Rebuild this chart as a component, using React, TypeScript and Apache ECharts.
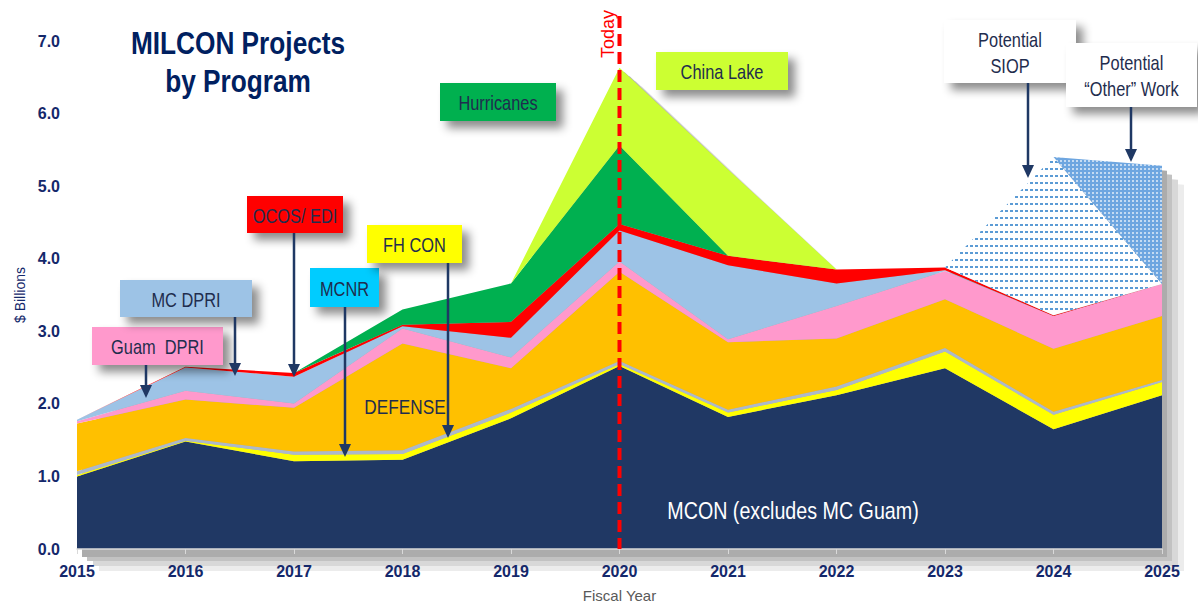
import React, { useEffect, useRef } from 'react';
import * as echarts from 'echarts';

// ---------- data ($ billions, by fiscal year) ----------
const years = ['2015', '2016', '2017', '2018', '2019', '2020', '2021', '2022', '2023', '2024', '2025'];
const yTicks = [0, 1, 2, 3, 4, 5, 6, 7];
const todayYear = '2020';

const mcon = [1.0, 1.48, 1.21, 1.23, 1.8, 2.52, 1.82, 2.12, 2.49, 1.65, 2.12];
const fhCon = [0.02, 0.01, 0.09, 0.08, 0.08, 0.03, 0.06, 0.07, 0.23, 0.2, 0.18];
const mcnr = [0.05, 0.04, 0.045, 0.05, 0.05, 0.04, 0.04, 0.05, 0.05, 0.04, 0.03];
const defense = [0.66, 0.53, 0.6, 1.47, 0.56, 1.23, 0.93, 0.66, 0.67, 0.87, 0.88];
const guamDpri = [0.03, 0.12, 0.06, 0.21, 0.15, 0.14, 0.04, 0.45, 0.39, 0.45, 0.44];
const mcDpri = [0.02, 0.32, 0.37, 0.03, 0.27, 0.43, 1.02, 0.31, 0.01, 0, 0];
const ocosEdi = [0, 0.01, 0.05, 0.02, 0.22, 0.09, 0.13, 0.19, 0.04, 0.01, 0];
const hurricanes = [0, 0, 0, 0.21, 0.53, 1.08, 0, 0, 0, 0, 0];
const chinaLake = [0, 0, 0, 0, 0, 1.07, 1.19, 0, 0, 0, 0];
const potentialSiop = [0, 0, 0, 0, 0, 0, 0, 0, 0, 2.18, 0];
const potentialOther = [0, 0, 0, 0, 0, 0, 0, 0, 0, 0, 1.63];

const NAVY = '#1f3864';
const LABEL_NAVY = '#14286b';
const BOX_TEXT = '#1f2d4e';
const SANS = '"Liberation Sans", Arial, sans-serif';
const NARROW_SCALE = 0.82;

const GRID = { left: 77, right: 36, top: 41, bottom: 55 };
// drop-shadow copies of the stack: [dx, dy, colour]
const SHADOW_STEPS: [number, number, string][] = [
  [22, 18, '#ececec'],
  [16, 13, '#d8d8d8'],
  [10, 8, '#c2c2c2'],
  [5, 4, '#acacac'],
];

export default function App() {
  const ref = useRef<HTMLDivElement>(null);

  useEffect(() => {
    document.body.style.margin = '0';
    const chart = echarts.init(ref.current!, null, { renderer: 'svg' });

    const layers: [string, number[], string, any?][] = [
      ['MCON', mcon, '#203864'],
      ['FH CON', fhCon, '#ffff00'],
      ['MCNR', mcnr, '#adb9ca'],
      ['DEFENSE', defense, '#ffc000'],
      ['Guam DPRI', guamDpri, '#ff99cc'],
      ['MC DPRI', mcDpri, '#9dc3e6'],
      ['OCOS/ EDI', ocosEdi, '#ff0000'],
      ['Hurricanes', hurricanes, '#00b050'],
      ['China Lake', chinaLake, '#ccff33'],
      [
        'Potential SIOP',
        potentialSiop,
        '#ffffff',
        {
          symbol: 'rect',
          symbolSize: 1,
          color: '#5b9bd5',
          backgroundColor: '#ffffff',
          dashArrayX: [3, 2],
          dashArrayY: [1.5, 4.5],
          rotation: 0,
        },
      ],
      [
        'Potential Other Work',
        potentialOther,
        '#6ea6e0',
        {
          symbol: 'rect',
          symbolSize: 0.8,
          color: '#ffffff',
          backgroundColor: '#6ea6e0',
          dashArrayX: [2, 1.5],
          dashArrayY: [2, 1.5],
        },
      ],
    ];

    const totals = years.map((_, i) => layers.reduce((s, l) => s + l[1][i], 0));

    const grids: any[] = [{ ...GRID }];
    const xAxes: any[] = [];
    const yAxes: any[] = [];
    const series: any[] = [];

    SHADOW_STEPS.forEach(([dx, dy, col], k) => {
      const gi = k + 1;
      grids.push({ left: GRID.left + dx, right: GRID.right - dx, top: GRID.top + dy, bottom: GRID.bottom - dy });
      xAxes.push({ type: 'category', gridIndex: gi, data: years, boundaryGap: false, show: false });
      yAxes.push({ type: 'value', gridIndex: gi, min: yTicks[0], max: yTicks[yTicks.length - 1], show: false });
      series.push({
        name: 'shadow' + k,
        type: 'line',
        xAxisIndex: gi,
        yAxisIndex: gi,
        data: totals,
        symbol: 'none',
        silent: true,
        z: 1,
        lineStyle: { width: 0 },
        itemStyle: { color: col },
        areaStyle: { color: col, opacity: 1 },
        emphasis: { disabled: true },
      });
    });

    layers.forEach(([name, data, color, decal]) => {
      series.push({
        name,
        type: 'line',
        stack: 'total',
        xAxisIndex: 0,
        yAxisIndex: 0,
        data,
        symbol: 'none',
        silent: true,
        z: 2,
        lineStyle: { width: 0 },
        itemStyle: decal ? { color, decal } : { color },
        areaStyle: { color, opacity: 1 },
        emphasis: { disabled: true },
      });
    });

    chart.setOption({
      animation: false,
      grid: grids,
      xAxis: [
        {
          type: 'category',
          gridIndex: 0,
          data: years,
          boundaryGap: false,
          name: 'Fiscal Year',
          nameLocation: 'middle',
          nameGap: 39,
          nameTextStyle: { color: '#595959', fontSize: 15, fontFamily: SANS },
          axisLine: { show: true, lineStyle: { color: '#d9d9d9', width: 1.5 } },
          axisTick: { show: true, length: 5, lineStyle: { color: '#d9d9d9' } },
          axisLabel: {
            color: LABEL_NAVY,
            fontWeight: 'bold',
            fontSize: 16,
            fontFamily: SANS,
            margin: 14,
          },
          splitLine: { show: false },
          z: 5,
        },
        ...xAxes,
      ],
      yAxis: [
        {
          type: 'value',
          gridIndex: 0,
          min: yTicks[0],
          max: yTicks[yTicks.length - 1],
          interval: 1,
          name: '$ Billions',
          nameLocation: 'middle',
          nameGap: 45,
          nameRotate: 90,
          nameTextStyle: { color: LABEL_NAVY, fontSize: 14, fontFamily: SANS },
          axisLine: { show: false },
          axisTick: { show: false },
          splitLine: { show: false },
          axisLabel: {
            color: LABEL_NAVY,
            fontWeight: 'bold',
            fontSize: 16,
            fontFamily: SANS,
            margin: 17,
            formatter: (v: number) => v.toFixed(1),
          },
        },
        ...yAxes,
      ],
      series,
    });

    const todayX = chart.convertToPixel({ xAxisIndex: 0 }, todayYear) as number;
    const y0 = chart.convertToPixel({ yAxisIndex: 0 }, 0) as number;

    const boxShadow = {
      shadowBlur: 10,
      shadowColor: 'rgba(0,0,0,0.45)',
      shadowOffsetX: 7,
      shadowOffsetY: 7,
    };

    const narrowText = (text: string, x: number, y: number, size: number, fill: string, extra: any = {}) => ({
      type: 'text',
      z: 101,
      x,
      y,
      scaleX: NARROW_SCALE,
      style: {
        text,
        fill,
        fontSize: size,
        fontFamily: SANS,
        align: 'center',
        verticalAlign: 'middle',
        textAlign: 'center',
        textVerticalAlign: 'middle',
        ...extra,
      },
    });

    const box = (text: string, x: number, y: number, w: number, h: number, fill: string) => [
      { type: 'rect', z: 100, shape: { x, y, width: w, height: h }, style: { fill, ...boxShadow } },
      narrowText(text, x + w / 2, y + h / 2 + 1, 20, BOX_TEXT, { lineHeight: 26 }),
    ];

    const arrow = (x: number, yStart: number, yTip: number) => [
      { type: 'line', z: 102, shape: { x1: x, y1: yStart, x2: x, y2: yTip - 10 }, style: { stroke: NAVY, lineWidth: 2.5 } },
      {
        type: 'polygon',
        z: 102,
        shape: { points: [[x - 6, yTip - 13], [x + 6, yTip - 13], [x, yTip]] },
        style: { fill: NAVY },
      },
    ];

    const graphic: any[] = [
      narrowText('MILCON Projects\nby Program', 238, 62, 32, '#002060', { fontWeight: 'bold', lineHeight: 38 }),
      // today line
      {
        type: 'line',
        z: 90,
        shape: { x1: todayX, y1: 16, x2: todayX, y2: y0 },
        style: { stroke: '#ff0000', lineWidth: 4, lineDash: [12, 6] },
      },
      {
        type: 'text',
        z: 91,
        x: 608,
        y: 34,
        rotation: Math.PI / 2,
        style: {
          text: 'Today',
          fill: '#ff0000',
          fontSize: 18,
          fontFamily: SANS,
          align: 'center',
          verticalAlign: 'middle',
          textAlign: 'center',
          textVerticalAlign: 'middle',
        },
      },
      ...box('Guam  DPRI', 92, 327, 131, 38, '#ff99cc'),
      ...arrow(146, 365, 398),
      ...box('MC DPRI', 120, 280, 132, 37, '#9dc3e6'),
      ...arrow(235, 317, 376),
      ...box('OCOS/ EDI', 247, 196, 96, 37, '#ff0000'),
      ...arrow(294, 233, 377),
      ...box('MCNR', 310, 268, 69, 39, '#00ccff'),
      ...arrow(345, 307, 457),
      ...box('FH CON', 367, 225, 95, 38, '#ffff00'),
      ...arrow(448, 263, 438),
      ...box('Hurricanes', 440, 83, 116, 38, '#00b050'),
      ...box('China Lake', 656, 52, 132, 38, '#ccff33'),
      ...box('Potential\nSIOP', 944, 20, 132, 63, '#ffffff'),
      ...arrow(1028, 83, 178),
      ...box('Potential\n\u201cOther\u201d Work', 1066, 43, 131, 64, '#ffffff'),
      ...arrow(1131, 107, 162),
      narrowText('DEFENSE', 405, 407, 21, BOX_TEXT),
      narrowText('MCON (excludes MC Guam)', 793, 511, 24, '#ffffff'),
    ];

    chart.setOption({ graphic });

    return () => chart.dispose();
  }, []);

  return <div ref={ref} style={{ width: 1198, height: 608, background: '#ffffff' }} />;
}
